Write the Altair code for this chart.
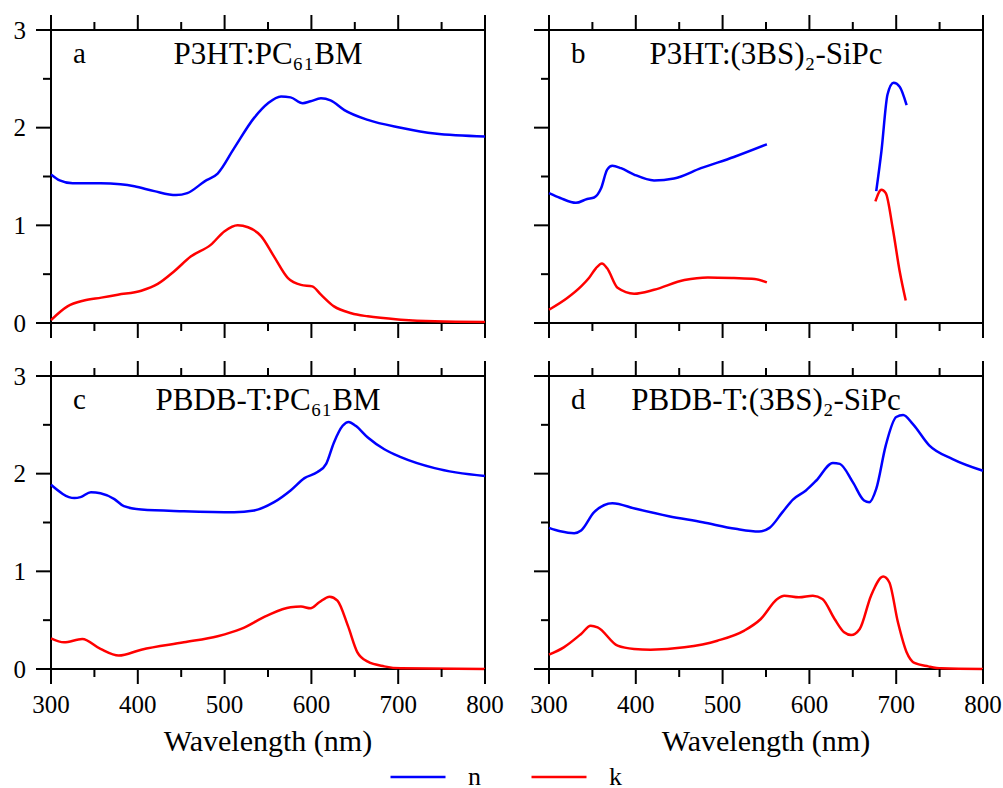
import altair as alt
import pandas as pd

FONT = "Liberation Serif"

# ---------------- data ----------------
# panel a : P3HT:PC61BM
a_n_wl = [300, 310, 325, 357, 380, 396, 419, 444, 457, 477, 492, 511, 534, 550, 565, 576, 590, 599, 611, 622, 638, 665, 703, 742, 800]
a_n = [1.52, 1.46, 1.43, 1.43, 1.42, 1.40, 1.35, 1.31, 1.33, 1.45, 1.53, 1.79, 2.10, 2.25, 2.32, 2.31, 2.25, 2.27, 2.30, 2.28, 2.18, 2.08, 2.00, 1.94, 1.91]
a_k_wl = [300, 319, 338, 358, 377, 404, 423, 442, 461, 484, 500, 515, 527, 542, 557, 573, 588, 601, 611, 626, 646, 665, 703, 742, 800]
a_k = [0.03, 0.17, 0.23, 0.26, 0.29, 0.33, 0.40, 0.53, 0.68, 0.80, 0.94, 1.00, 0.98, 0.89, 0.68, 0.46, 0.39, 0.375, 0.29, 0.17, 0.10, 0.068, 0.034, 0.017, 0.01]

# panel b : P3HT:(3BS)2-SiPc  (two measured segments)
b_n_wl_1 = [300, 313, 331, 344, 352, 360, 367, 373, 383, 398, 421, 444, 475, 513, 551]
b_n_1 = [1.33, 1.28, 1.23, 1.27, 1.285, 1.38, 1.57, 1.61, 1.585, 1.52, 1.46, 1.48, 1.585, 1.70, 1.83]
b_n_wl_2 = [677, 683, 690, 697, 704, 712]
b_n_2 = [1.35, 1.76, 2.34, 2.46, 2.42, 2.23]
b_k_wl_1 = [300, 321, 337, 346, 354, 361, 367, 379, 398, 421, 456, 483, 513, 537, 551]
b_k_1 = [0.136, 0.256, 0.375, 0.46, 0.56, 0.61, 0.56, 0.36, 0.30, 0.34, 0.44, 0.467, 0.46, 0.45, 0.416]
b_k_wl_2 = [676, 683, 688, 696, 704, 711]
b_k_2 = [1.245, 1.364, 1.33, 0.97, 0.53, 0.23]

# panel c : PBDB-T:PC61BM
c_n_wl = [300, 327, 334, 346, 357, 373, 384, 404, 453, 511, 534, 557, 576, 592, 607, 617, 626, 636, 643, 651, 665, 684, 703, 742, 800]
c_n = [1.886, 1.75, 1.76, 1.81, 1.80, 1.74, 1.667, 1.633, 1.616, 1.606, 1.623, 1.708, 1.828, 1.954, 2.016, 2.10, 2.32, 2.49, 2.53, 2.49, 2.37, 2.25, 2.17, 2.057, 1.975]
c_k_wl = [300, 315, 336, 357, 378, 404, 453, 492, 519, 549, 576, 588, 599, 609, 621, 630, 642, 653, 665, 684, 703, 800]
c_k = [0.314, 0.273, 0.307, 0.205, 0.137, 0.198, 0.273, 0.335, 0.41, 0.547, 0.632, 0.639, 0.622, 0.683, 0.741, 0.70, 0.444, 0.171, 0.075, 0.027, 0.007, 0.0]

# panel d : PBDB-T:(3BS)2-SiPc
d_n_wl = [300, 313, 329, 337, 352, 373, 400, 438, 477, 515, 542, 554, 569, 581, 596, 608, 627, 635, 650, 663, 669, 677, 688, 700, 708, 719, 738, 765, 800]
d_n = [1.445, 1.41, 1.39, 1.418, 1.606, 1.698, 1.64, 1.565, 1.503, 1.435, 1.408, 1.445, 1.606, 1.735, 1.828, 1.93, 2.11, 2.10, 1.913, 1.725, 1.708, 1.845, 2.29, 2.58, 2.60, 2.51, 2.29, 2.15, 2.03]
d_k_wl = [300, 317, 337, 348, 356, 379, 398, 417, 456, 494, 525, 544, 563, 571, 588, 604, 615, 629, 640, 648, 658, 671, 685, 692, 702, 712, 721, 737, 752, 800]
d_k = [0.147, 0.222, 0.359, 0.444, 0.427, 0.239, 0.205, 0.198, 0.222, 0.29, 0.393, 0.512, 0.717, 0.751, 0.734, 0.751, 0.717, 0.512, 0.376, 0.348, 0.41, 0.751, 0.946, 0.888, 0.478, 0.171, 0.0615, 0.027, 0.007, 0.0]

panel_letters = ["a", "b", "c", "d"]
panel_titles = ["P3HT:PC\u2086\u2081BM", "P3HT:(3BS)\u2082-SiPc", "PBDB-T:PC\u2086\u2081BM", "PBDB-T:(3BS)\u2082-SiPc"]
series_names = ["n", "k"]
series_colors = ["#0000ff", "#ff0000"]
x_title = "Wavelength (nm)"
x_major = [300, 400, 500, 600, 700, 800]
x_minor = [350, 450, 550, 650, 750]
y_major = [0, 1, 2, 3]
y_minor = [0.5, 1.5, 2.5]


def frame(parts):
    rows = []
    for qty, seg, wls, vals in parts:
        for w, v in zip(wls, vals):
            rows.append({"wl": w, "val": v, "qty": qty, "seg": f"{qty}{seg}"})
    return pd.DataFrame(rows)


dfs = [
    frame([("n", 1, a_n_wl, a_n), ("k", 1, a_k_wl, a_k)]),
    frame([("n", 1, b_n_wl_1, b_n_1), ("n", 2, b_n_wl_2, b_n_2),
           ("k", 1, b_k_wl_1, b_k_1), ("k", 2, b_k_wl_2, b_k_2)]),
    frame([("n", 1, c_n_wl, c_n), ("k", 1, c_k_wl, c_k)]),
    frame([("n", 1, d_n_wl, d_n), ("k", 1, d_k_wl, d_k)]),
]

W, H = 434, 293
MAJ, MIN = 15, 8
xs = alt.Scale(domain=[300, 800], nice=False, zero=False)
ys = alt.Scale(domain=[0, 3], nice=False, zero=False)


def X(field):
    return alt.X(field, scale=xs, axis=None)


def Y(field):
    return alt.Y(field, scale=ys, axis=None)


def xticks(values, y0, y1):
    return alt.Chart(pd.DataFrame({"v": values})).mark_rule(color="black", strokeWidth=2).encode(
        x=X("v:Q"), y=alt.value(y0), y2=alt.value(y1))


def yticks(values, length):
    return alt.Chart(pd.DataFrame({"v": values})).mark_rule(color="black", strokeWidth=2).encode(
        y=Y("v:Q"), x=alt.value(0), x2=alt.value(-length))


def xlabels():
    return alt.Chart(pd.DataFrame({"v": x_major, "t": [str(v) for v in x_major]})).mark_text(
        font=FONT, fontSize=25, align="center", baseline="alphabetic", color="black"
    ).encode(x=X("v:Q"), y=alt.value(H + 44), text="t:N")


def ylabels():
    return alt.Chart(pd.DataFrame({"v": y_major, "t": [str(v) for v in y_major]})).mark_text(
        font=FONT, fontSize=25, align="right", baseline="alphabetic", color="black", dy=8.5
    ).encode(y=Y("v:Q"), x=alt.value(-25), text="t:N")


def text_at(s, x, y, size, align):
    return alt.Chart(pd.DataFrame({"t": [s]})).mark_text(
        font=FONT, fontSize=size, align=align, baseline="alphabetic", color="black"
    ).encode(text="t:N", x=alt.value(x), y=alt.value(y))


def panel(i, left, bottom):
    df = dfs[i]
    color = alt.Color(
        "qty:N",
        scale=alt.Scale(domain=series_names, range=series_colors),
        sort=series_names,
        legend=alt.Legend(
            title=None, orient="none", legendX=338, legendY=718, direction="horizontal",
            symbolType="stroke", symbolSize=3025, symbolStrokeWidth=2.5,
            labelFont=FONT, labelFontSize=26, labelColor="black", labelOffset=21,
            columnPadding=45, padding=0,
        ),
    )
    lines = alt.Chart(df).mark_line(interpolate="monotone", strokeWidth=2.5).encode(
        x=X("wl:Q"), y=Y("val:Q"), color=color, detail="seg:N")

    layers = [
        lines,
        xticks(x_major, H, H + MAJ), xticks(x_minor, H, H + MIN),
        xticks(x_major, 0, -MAJ), xticks(x_minor, 0, -MIN),
        yticks(y_major, MAJ), yticks(y_minor, MIN),
        text_at(panel_letters[i], 22, 33, 29, "left"),
        text_at(panel_titles[i], W / 2, 34, 31, "center"),
    ]
    if left:
        layers.append(ylabels())
    if bottom:
        layers.append(xlabels())
        layers.append(text_at(x_title, W / 2, H + 82, 30, "center"))

    return alt.layer(*layers).properties(width=W, height=H)


chart = alt.concat(
    panel(0, True, False), panel(1, False, False),
    panel(2, True, True), panel(3, False, True),
    columns=2, spacing={"row": 53, "column": 64}, bounds="flush",
).resolve_scale(color="shared").properties(
    padding={"left": 12, "top": 13, "right": 0, "bottom": 0}
).configure(font=FONT).configure_view(stroke="black", strokeWidth=2)

chart.save("out.html", embed_options={"renderer": "svg", "actions": False})
